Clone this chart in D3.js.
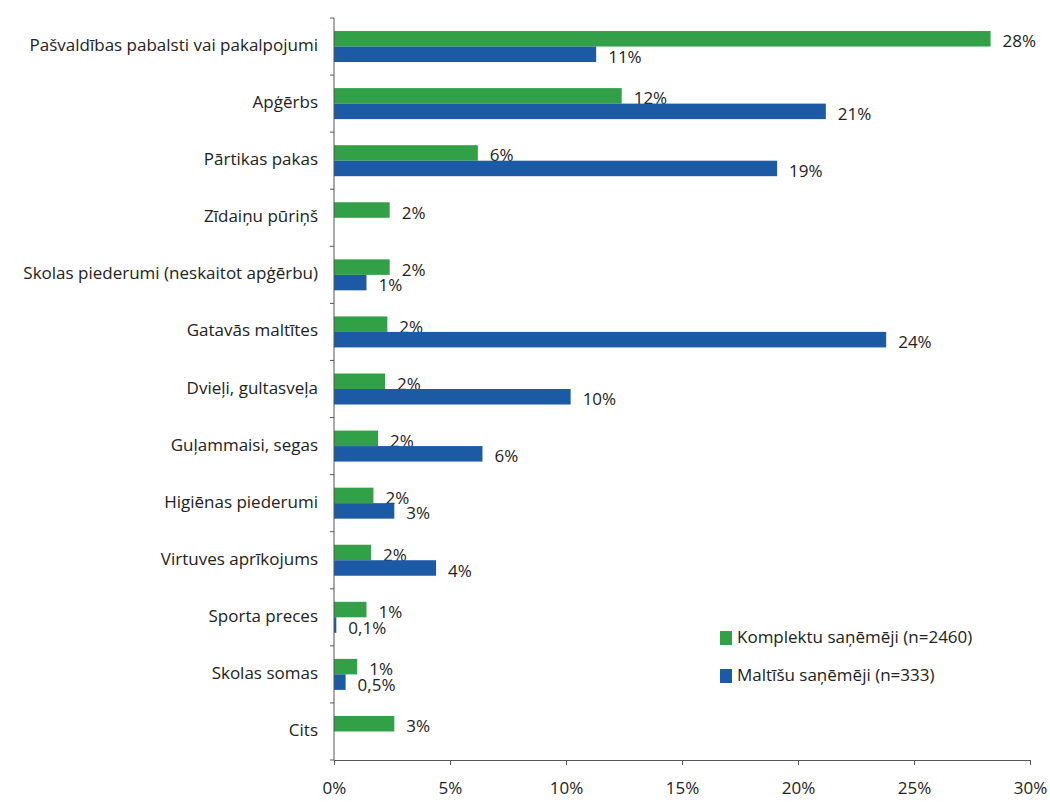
<!DOCTYPE html>
<html>
<head>
<meta charset="utf-8">
<script src="https://cdn.jsdelivr.net/npm/d3@7"></script>
<style>
  html, body { margin: 0; padding: 0; background: #fff; }
  svg { display: block; }
  text { font-family: "Open Sans", Lato, sans-serif; fill: #222; }
</style>
</head>
<body>
<svg id="chart" width="1050" height="802"></svg>
<script>
const categories = [
  "Pašvaldības pabalsti vai pakalpojumi",
  "Apģērbs",
  "Pārtikas pakas",
  "Zīdaiņu pūriņš",
  "Skolas piederumi (neskaitot apģērbu)",
  "Gatavās maltītes",
  "Dvieļi, gultasveļa",
  "Guļammaisi, segas",
  "Higiēnas piederumi",
  "Virtuves aprīkojums",
  "Sporta preces",
  "Skolas somas",
  "Cits"
];
const seriesNames = ["Komplektu saņēmēji (n=2460)", "Maltīšu saņēmēji (n=333)"];
const komplektuValues = [28.3, 12.4, 6.2, 2.4, 2.4, 2.3, 2.2, 1.9, 1.7, 1.6, 1.4, 1.0, 2.6];
const maltisuValues   = [11.3, 21.2, 19.1, null, 1.4, 23.8, 10.2, 6.4, 2.6, 4.4, 0.1, 0.5, null];
const xTicks = [0, 5, 10, 15, 20, 25, 30];
const colors = ["#31a046", "#1c5aa6"];

const svg = d3.select("#chart");
const x = d3.scaleLinear().domain([0, 30]).range([334, 1030]);
const y0 = d3.scaleBand().domain(categories).range([18, 760]);
const half = 15.5;
const y1 = d3.scaleBand().domain(seriesNames)
  .range([y0.bandwidth() / 2 - half, y0.bandwidth() / 2 + half]);

const series = [komplektuValues, maltisuValues];
const fmt = v => (v < 1 ? d3.format(".1f")(v).replace(".", ",") : d3.format(".0f")(v)) + "%";

// bars
series.forEach((vals, si) => {
  const g = svg.append("g");
  categories.forEach((c, i) => {
    const v = vals[i];
    if (v == null) return;
    const yy = y0(c) + y1(seriesNames[si]);
    g.append("rect")
      .attr("x", x(0))
      .attr("y", yy)
      .attr("width", x(v) - x(0))
      .attr("height", y1.bandwidth())
      .attr("fill", colors[si]);
    g.append("text")
      .attr("x", x(v) + 12)
      .attr("y", yy + y1.bandwidth() / 2 + 4)
      .attr("dominant-baseline", "middle")
      .attr("font-size", 17)
      .text(fmt(v));
  });
});

// y axis
const yAxis = svg.append("g");
yAxis.append("line").attr("x1", x(0)).attr("x2", x(0)).attr("y1", 18).attr("y2", 760)
  .attr("stroke", "#555").attr("stroke-width", 1);
const boundaries = categories.map(c => y0(c)).concat([760]);
boundaries.forEach(b => {
  yAxis.append("line").attr("x1", x(0) - 4).attr("x2", x(0)).attr("y1", b).attr("y2", b)
    .attr("stroke", "#555");
});
categories.forEach(c => {
  yAxis.append("text")
    .attr("x", 318)
    .attr("y", y0(c) + y0.bandwidth() / 2)
    .attr("text-anchor", "end")
    .attr("dominant-baseline", "middle")
    .attr("font-size", 17)
    .text(c);
});

// x axis
const xAxis = d3.axisBottom(x).tickValues(xTicks).tickSize(5).tickFormat(d => d + "%");
const gx = svg.append("g").attr("transform", "translate(0,760)").call(xAxis);
gx.select(".domain").attr("stroke", "#555");
gx.selectAll(".tick line").attr("stroke", "#555");
gx.selectAll(".tick text").attr("font-size", 17).attr("font-family", "'Open Sans', sans-serif")
  .attr("fill", "#222").attr("dy", "1.5em");

// legend
const legend = svg.append("g");
const legendY = [638, 676];
seriesNames.forEach((s, i) => {
  legend.append("rect").attr("x", 720).attr("y", legendY[i] - 7).attr("width", 12).attr("height", 14)
    .attr("fill", colors[i]);
  legend.append("text").attr("x", 737).attr("y", legendY[i])
    .attr("dominant-baseline", "middle").attr("font-size", 17).text(s);
});
</script>
</body>
</html>
